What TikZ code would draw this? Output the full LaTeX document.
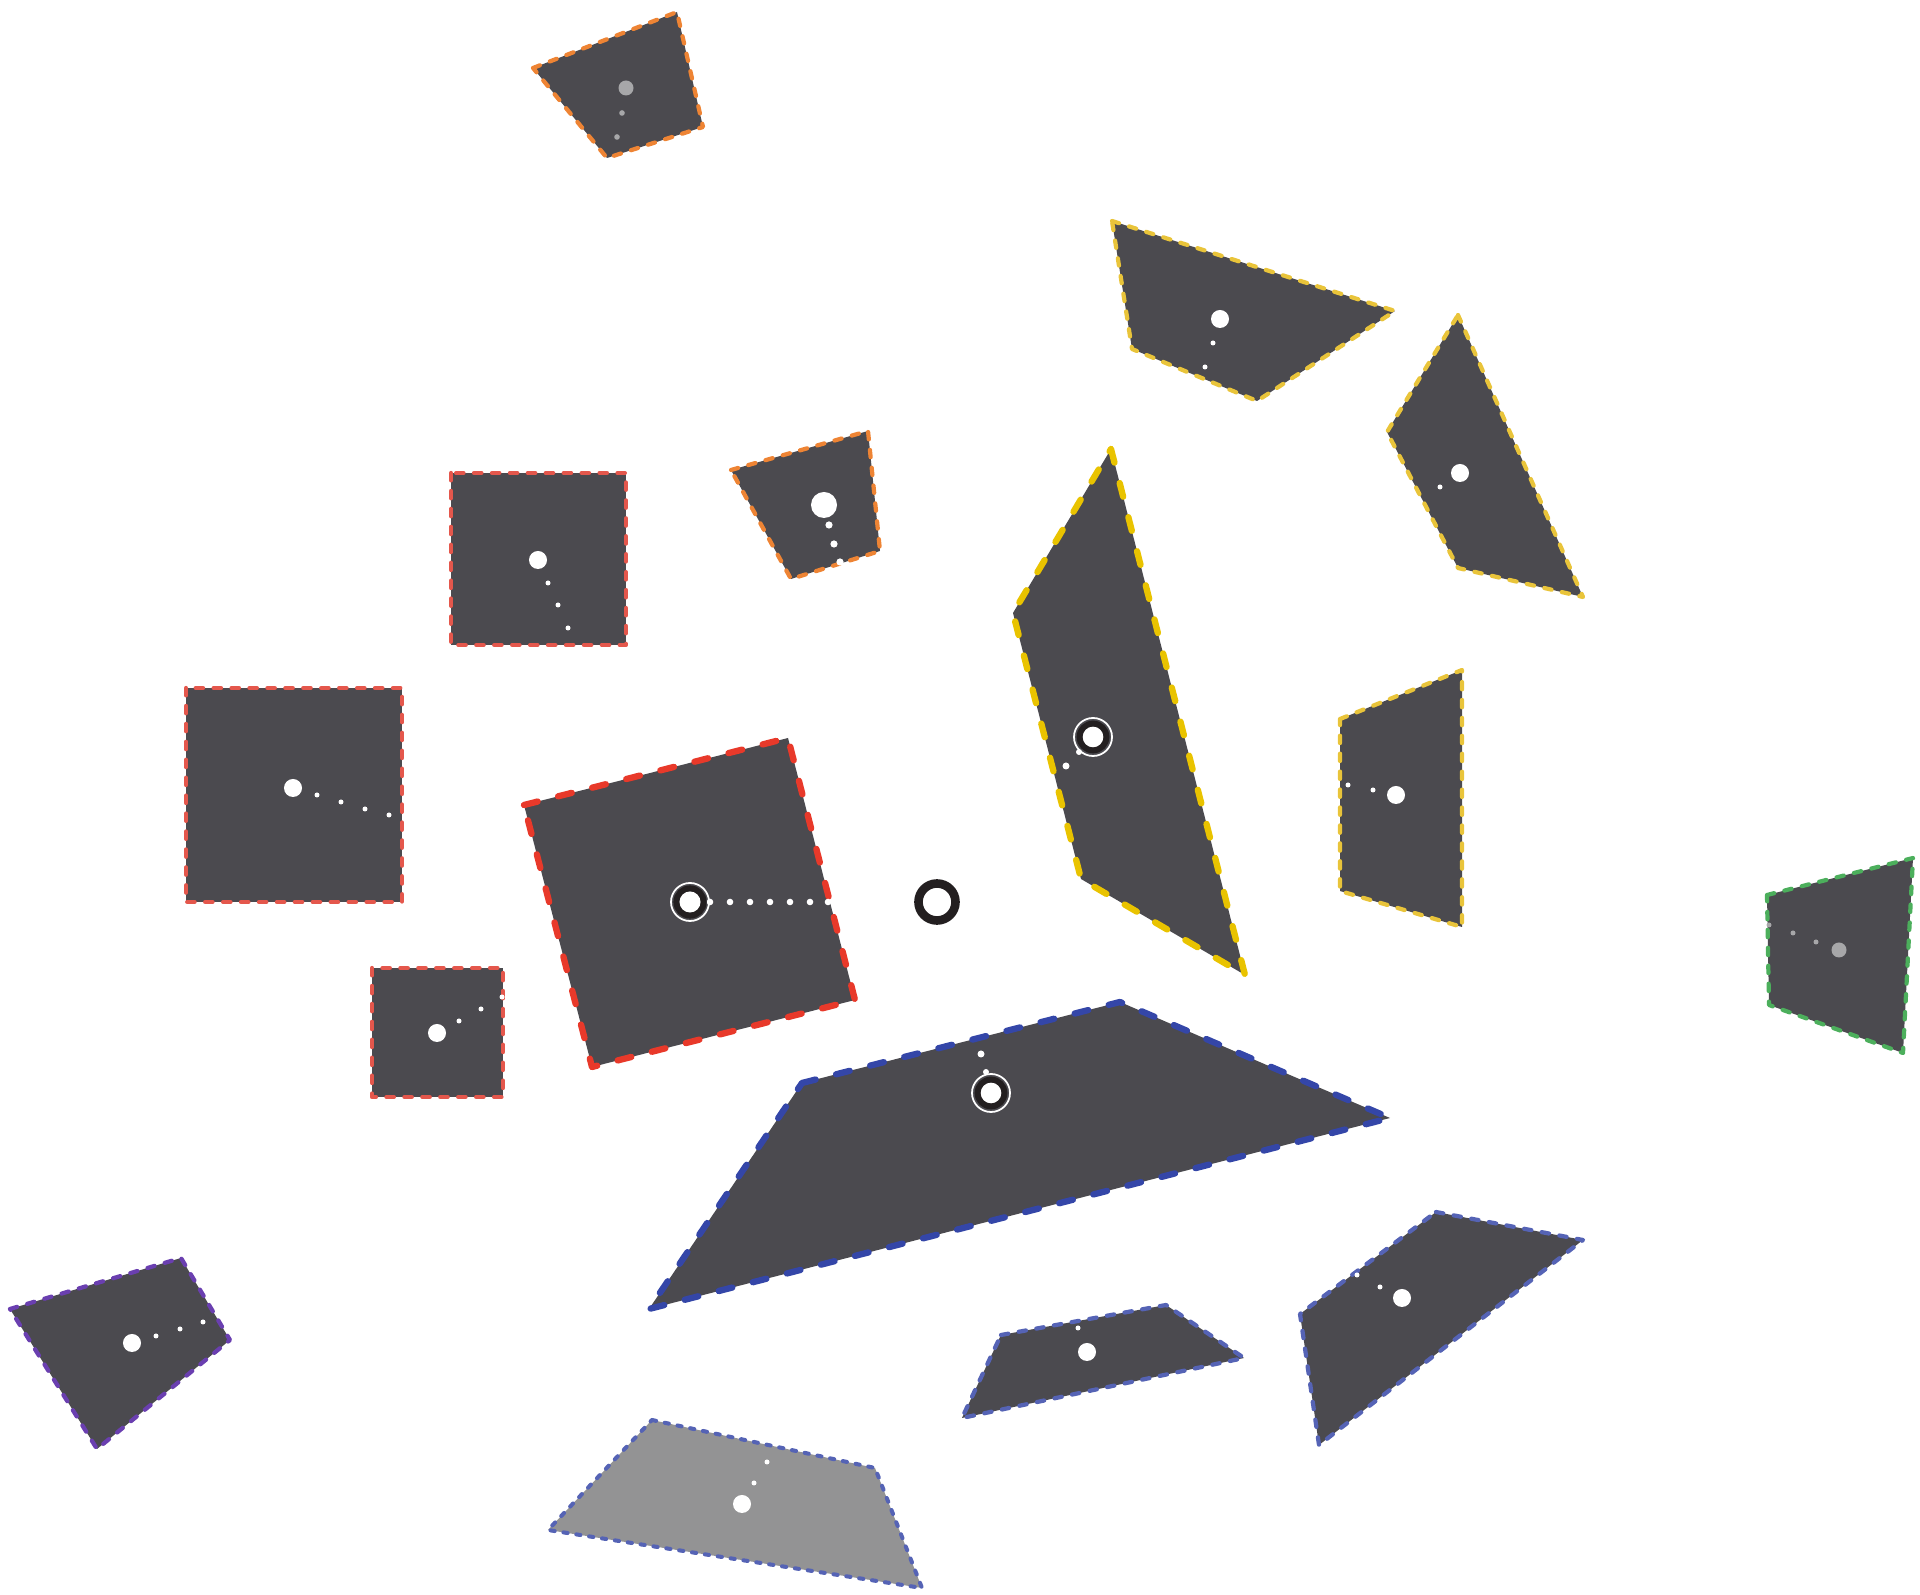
\documentclass[tikz,border=0pt]{standalone}
\definecolor{panel}{HTML}{4B4A4F}
\definecolor{panellight}{HTML}{939394}
\definecolor{ringblack}{HTML}{231F20}
\definecolor{redthick}{HTML}{E8392A}
\definecolor{redthin}{HTML}{E4574C}
\definecolor{orangeb}{HTML}{EE8434}
\definecolor{yellowthick}{HTML}{E9C300}
\definecolor{yellowthin}{HTML}{E9C43A}
\definecolor{bluethick}{HTML}{3446A8}
\definecolor{bluethin}{HTML}{5563B5}
\definecolor{greenb}{HTML}{4CAF5C}
\definecolor{purpleb}{HTML}{6A3FB0}
\definecolor{graydot}{HTML}{A7A7A9}
\tikzset{
  thickborder/.style={line width=1.8pt, dash pattern=on 4pt off 6pt, line cap=round, line join=round},
  thinborder/.style={line width=1.2pt, dash pattern=on 2.1pt off 3pt, line cap=round, line join=round},
  fineborder/.style={line width=1.15pt, dash pattern=on 1.2pt off 2.5pt, line cap=round, line join=round},
  bigdot/.style={fill=white},
  greydot/.style={fill=graydot},
}
\begin{document}
\begin{tikzpicture}[x={(0.01cm,0)}, y={(0,-0.01cm)}]
\useasboundingbox (0,0) rectangle (1920,1595);

% 1 top orange quad
\filldraw[fill=panel, draw=orangeb, thinborder] (533,68) -- (677,12) -- (703,127) -- (607,158) -- cycle;
\fill[greydot] (626,88) circle[radius=0.075cm];
\fill[greydot] (622,113) circle[radius=0.028cm];
\fill[greydot] (617,137) circle[radius=0.028cm];

% 2 upper red square
\filldraw[fill=panel, draw=redthin, thinborder] (451,473) rectangle (626,645);
\fill[bigdot] (538,560) circle[radius=0.09cm];
\foreach \p in {(548,583),(558,605),(568,628)} \fill[white] \p circle[radius=0.025cm];

% 3 big left square
\filldraw[fill=panel, draw=redthin, thinborder] (186,688) rectangle (402,902);
\fill[bigdot] (293,788) circle[radius=0.09cm];
\foreach \p in {(317,795),(341,802),(365,809),(389,815)} \fill[white] \p circle[radius=0.025cm];

% 4 small lower square
\filldraw[fill=panel, draw=redthin, thinborder] (372,968) rectangle (503,1097);
\fill[bigdot] (437,1033) circle[radius=0.09cm];
\foreach \p in {(459,1021),(481,1009),(502,997)} \fill[white] \p circle[radius=0.025cm];

% 5 big rotated red square
\filldraw[fill=panel, draw=redthick, thickborder] (524,805) -- (788,738) -- (855,1000) -- (592,1067) -- cycle;
\foreach \xx in {710,730,750,770,790,810,828} \fill[white] (\xx,902) circle[radius=0.033cm];
\draw[white, line width=0.5pt] (690,902) circle[radius=0.19cm];
\draw[ringblack, line width=1.75pt] (690,902) circle[radius=0.135cm];
\fill[white] (690,902) circle[radius=0.105cm];

% standalone ring
\draw[ringblack, line width=2.45pt] (937,902) circle[radius=0.185cm];

% 6 middle orange quad
\filldraw[fill=panel, draw=orangeb, thinborder] (731,470) -- (868,431) -- (880,551) -- (791,579) -- cycle;
\fill[bigdot] (824,505) circle[radius=0.13cm];
\foreach \p in {(829,525),(834,544),(840,562)} \fill[white] \p circle[radius=0.036cm];

% 7 tall yellow quad
\filldraw[fill=panel, draw=yellowthick, thickborder] (1111,449) -- (1245,975) -- (1081,879) -- (1013,613) -- cycle;
\fill[white] (1066,766) circle[radius=0.035cm];
\fill[white] (1079,752) circle[radius=0.03cm];
\draw[white, line width=0.5pt] (1093,737) circle[radius=0.19cm];
\draw[ringblack, line width=1.75pt] (1093,737) circle[radius=0.133cm];
\fill[white] (1093,737) circle[radius=0.103cm];

% 8 upper yellow quad
\filldraw[fill=panel, draw=yellowthin, thinborder] (1112,221) -- (1395,311) -- (1257,401) -- (1132,349) -- cycle;
\fill[bigdot] (1220,319) circle[radius=0.09cm];
\foreach \p in {(1213,343),(1205,367)} \fill[white] \p circle[radius=0.025cm];

% 9 right yellow quad
\filldraw[fill=panel, draw=yellowthin, thinborder] (1458,315) -- (1583,597) -- (1458,568) -- (1387,432) -- cycle;
\fill[bigdot] (1460,473) circle[radius=0.09cm];
\fill[white] (1440,487) circle[radius=0.025cm];

% 10 mid-right yellow quad
\filldraw[fill=panel, draw=yellowthin, thinborder] (1340,719) -- (1462,670) -- (1462,927) -- (1340,891) -- cycle;
\fill[bigdot] (1396,795) circle[radius=0.09cm];
\foreach \p in {(1373,790),(1348,785)} \fill[white] \p circle[radius=0.025cm];

% 11 green quad
\filldraw[fill=panel, draw=greenb, thinborder] (1767,895) -- (1913,858) -- (1903,1053) -- (1769,1005) -- cycle;
\fill[greydot] (1839,950) circle[radius=0.075cm];
\foreach \p in {(1816,942),(1793,933),(1769,925)} \fill[graydot] \p circle[radius=0.025cm];

% 12 big blue trapezoid
\filldraw[fill=panel, draw=bluethick, thickborder] (802,1083) -- (1120,1002) -- (1390,1118) -- (649,1309) -- cycle;
\fill[white] (981,1054) circle[radius=0.035cm];
\fill[white] (986,1072) circle[radius=0.03cm];
\draw[white, line width=0.5pt] (991,1093) circle[radius=0.19cm];
\draw[ringblack, line width=1.75pt] (991,1093) circle[radius=0.133cm];
\fill[white] (991,1093) circle[radius=0.103cm];

% 13 small blue trapezoid
\filldraw[fill=panel, draw=bluethin, thinborder] (1001,1335) -- (1166,1305) -- (1244,1358) -- (962,1418) -- cycle;
\fill[bigdot] (1087,1352) circle[radius=0.09cm];
\fill[white] (1078,1328) circle[radius=0.025cm];

% 14 right blue quad
\filldraw[fill=panel, draw=bluethin, thinborder] (1436,1212) -- (1583,1240) -- (1319,1445) -- (1300,1314) -- cycle;
\fill[bigdot] (1402,1298) circle[radius=0.09cm];
\foreach \p in {(1380,1287),(1357,1275)} \fill[white] \p circle[radius=0.025cm];

% 15 purple quad
\filldraw[fill=panel, draw=purpleb, thinborder] (10,1309) -- (181,1258) -- (230,1340) -- (97,1449) -- cycle;
\fill[bigdot] (132,1343) circle[radius=0.09cm];
\foreach \p in {(156,1336),(180,1329),(203,1322)} \fill[white] \p circle[radius=0.025cm];

% 16 light gray trapezoid
\filldraw[fill=panellight, draw=bluethin, fineborder] (652,1420) -- (875,1468) -- (922,1588) -- (548,1530) -- cycle;
\fill[bigdot] (742,1504) circle[radius=0.09cm];
\foreach \p in {(754,1483),(767,1462)} \fill[white] \p circle[radius=0.025cm];
\end{tikzpicture}
\end{document}
